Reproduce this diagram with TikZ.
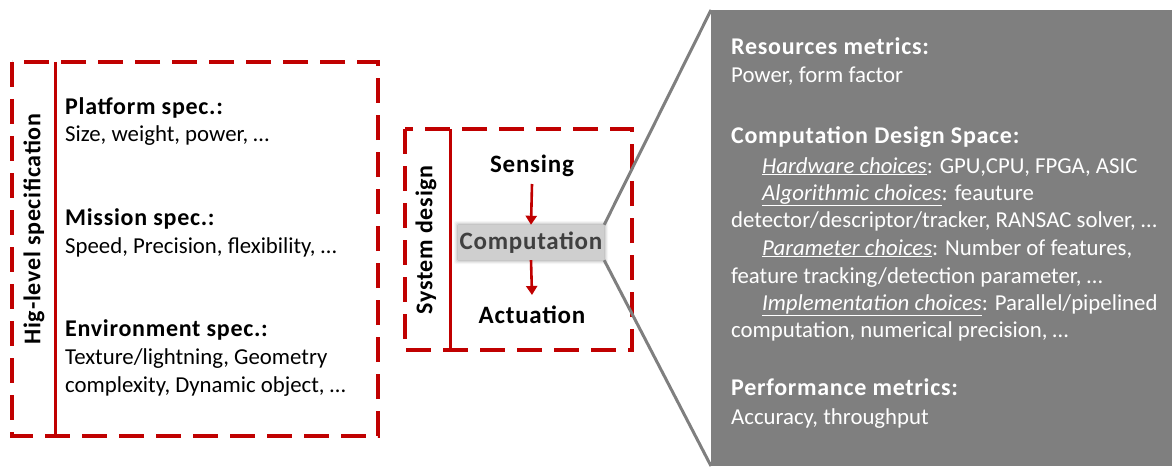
\documentclass[tikz,border=0pt]{standalone}
\usepackage{fontspec}
\setmainfont{Carlito}
\newfontfamily\headfont{Carlito}[LetterSpace=3.0]
\usetikzlibrary{arrows.meta}
\definecolor{dred}{HTML}{C00000}
\definecolor{panel}{HTML}{7F7F7F}
\definecolor{compfill}{HTML}{CFCFCF}
\definecolor{comptext}{HTML}{404040}
\tikzset{
  dbox/.style={draw=dred,line width=3.3pt,dash pattern=on 25pt off 12pt},
  divider/.style={draw=dred,line width=3pt},
  lefttxt/.style={anchor=base west,inner sep=0pt,font=\fontsize{22.8}{26}\selectfont},
  lefthead/.style={lefttxt,font=\fontsize{24}{28}\selectfont\headfont\bfseries},
  rottxt/.style={rotate=90,inner sep=0pt,font=\fontsize{24}{28}\selectfont\headfont\bfseries},
  midtxt/.style={anchor=base,inner sep=0pt,font=\fontsize{25}{28}\selectfont\headfont\bfseries},
  rtxt/.style={anchor=base west,inner sep=0pt,text=white,font=\fontsize{22.8}{26}\selectfont},
  rhead/.style={rtxt,font=\fontsize{24}{28}\selectfont\headfont\bfseries},
  flow/.style={draw=dred,line width=2.6pt,-{Triangle[length=9pt,width=11pt]}},
  zoomline/.style={draw=panel,line width=3pt},
}
\newcommand{\uit}[1]{\underline{\textit{#1}}}
\begin{document}
\begin{tikzpicture}[x=1pt,y=-1pt]
\useasboundingbox (0,0) rectangle (1172,468);
% right panel
\fill[panel] (711,10) rectangle (1172,466);
\coordinate (ptop) at (711,10);
\coordinate (pbot) at (711,466);
% left box
\draw[dbox] (12,62) rectangle (378,436);
\draw[divider] (55,62) -- (55,436);
\node[rottxt] (hls) at (34,229) {Hig-level specification};
\node[lefthead] (plat) at (65,114) {Platform spec.:};
\node[lefttxt] (platb) at (65,142) {Size, weight, power, \ldots};
\node[lefthead] (miss) at (65,225) {Mission spec.:};
\node[lefttxt] (missb) at (65,253) {Speed, Precision, flexibility, \ldots};
\node[lefthead] (env) at (65,336) {Environment spec.:};
\node[lefttxt] (envb) at (65,364) {Texture/lightning, Geometry};
\node[lefttxt] (envc) at (65,392) {complexity, Dynamic object, \ldots};
% middle box
\draw[dbox] (405,129) rectangle (632,350);
\draw[divider] (450,129) -- (450,350);
\node[rottxt] (sysd) at (426,240) {System design};
\node[midtxt] (sens) at (532,172) {Sensing};
\foreach \w/\o in {8/0.07,6/0.1,4/0.15,2/0.22}
  \fill[gray,opacity=\o,rounded corners=2pt] (458-\w/2,225-\w/2) rectangle (604+\w/2,260+\w/2);
\node[fill=compfill,minimum width=146pt,minimum height=35pt,inner sep=0pt,text=comptext,font=\fontsize{25}{28}\selectfont\headfont\bfseries] (comp) at (531,242.5) {Computation};
\node[midtxt] (act) at (532,323) {Actuation};
\draw[flow] (sens.south |- 0,184) -- (comp.north);
\draw[flow] (comp.south) -- (act.north |- 0,295);
\draw[zoomline] (comp.north east) -- (ptop);
\draw[zoomline] (comp.south east) -- (pbot);
% right panel texts
\node[rhead] (res) at (731,55) {Resources metrics:};
\node[rtxt] (resb) at (731,83) {Power, form factor};
\node[rhead] (cds) at (731,143) {Computation Design Space:};
\node[rtxt] (hw) at (762,173) {\uit{Hardware choices}: GPU,CPU, FPGA, ASIC};
\node[rtxt] (alg) at (762,200) {\uit{Algorithmic choices}: feauture};
\node[rtxt] (algb) at (731,227) {detector/descriptor/tracker, RANSAC solver, \ldots};
\node[rtxt] (par) at (762,255) {\uit{Parameter choices}: Number of features,};
\node[rtxt] (parb) at (731,283) {feature tracking/detection parameter, \ldots};
\node[rtxt] (imp) at (762,310) {\uit{Implementation choices}: Parallel/pipelined};
\node[rtxt] (impb) at (731,337) {computation, numerical precision, \ldots};
\node[rhead] (perf) at (731,395) {Performance metrics:};
\node[rtxt] (perfb) at (731,424) {Accuracy, throughput};
\end{tikzpicture}
\end{document}
